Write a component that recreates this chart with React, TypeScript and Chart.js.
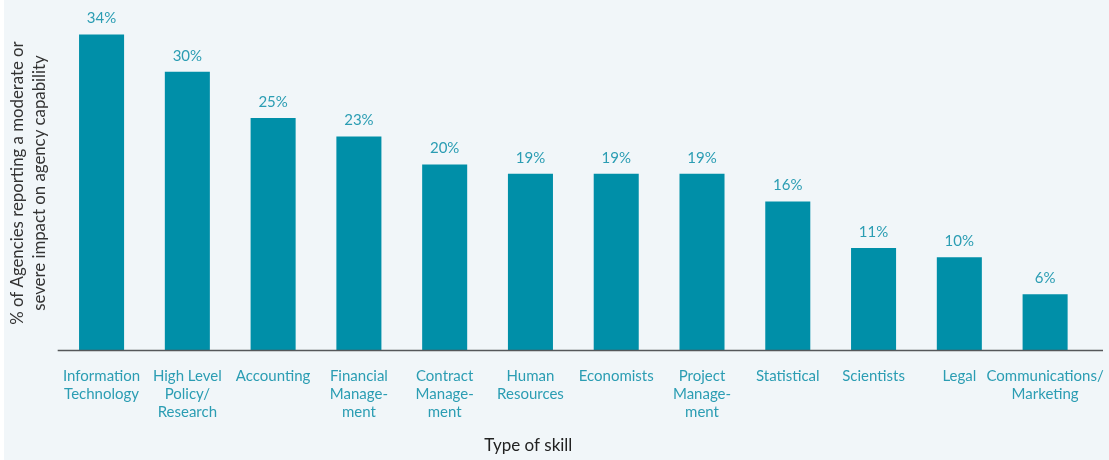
import React, { useEffect, useRef } from "react";
import { Chart, registerables } from "chart.js";

Chart.register(...registerables);

const categories: (string | string[])[] = [
  ["Information", "Technology"],
  ["High Level", "Policy/", "Research"],
  "Accounting",
  ["Financial", "Manage-", "ment"],
  ["Contract", "Manage-", "ment"],
  ["Human", "Resources"],
  "Economists",
  ["Project", "Manage-", "ment"],
  "Statistical",
  "Scientists",
  "Legal",
  ["Communications/", "Marketing"],
];

const values: number[] = [34, 30, 25, 23, 20, 19, 19, 19, 16, 11, 10, 6];

const yTitle: string[] = [
  "% of Agencies reporting a moderate or",
  "severe impact on agency capability",
];
const xTitle = "Type of skill";

const BAR = "#008fa8";
const TEAL_TEXT = "#2b9db3";
const FONT = "Lato, 'Open Sans', sans-serif";

const extras = {
  id: "extras",
  afterDatasetsDraw(chart: any) {
    const { ctx, chartArea } = chart;
    const meta = chart.getDatasetMeta(0);
    ctx.save();
    // baseline
    ctx.strokeStyle = "#55585a";
    ctx.lineWidth = 1.5;
    ctx.beginPath();
    ctx.moveTo(chartArea.left - 1, chartArea.bottom + 0.5);
    ctx.lineTo(chartArea.right + 15, chartArea.bottom + 0.5);
    ctx.stroke();
    // value labels
    ctx.fillStyle = TEAL_TEXT;
    ctx.font = `15px ${FONT}`;
    ctx.textAlign = "center";
    ctx.textBaseline = "middle";
    meta.data.forEach((bar: any, i: number) => {
      ctx.fillText(values[i] + "%", bar.x, bar.y - 16);
    });
    // x title
    ctx.fillStyle = "#222";
    ctx.font = `17px ${FONT}`;
    ctx.fillText(xTitle, (chartArea.left + chartArea.right) / 2 - 45, chart.height - 14);
    ctx.restore();
  },
};

export default function App() {
  const ref = useRef<HTMLCanvasElement>(null);
  useEffect(() => {
    document.body.style.margin = "0";
    const chart = new Chart(ref.current!, {
      type: "bar",
      data: {
        labels: categories,
        datasets: [
          {
            data: values,
            backgroundColor: BAR,
            barPercentage: 0.525,
            categoryPercentage: 1,
          },
        ],
      },
      options: {
        animation: false,
        responsive: false,
        layout: { padding: { left: 0, right: 21, top: 16, bottom: 22 } },
        plugins: { legend: { display: false }, tooltip: { enabled: false } },
        scales: {
          x: {
            grid: { display: false, drawTicks: false },
            border: { display: false },
            afterFit: (scale: any) => {
              scale.paddingLeft = 0;
              scale.paddingRight = 0;
            },
            ticks: {
              color: TEAL_TEXT,
              font: { family: FONT, size: 15, lineHeight: 1.2 },
              padding: 17,
              maxRotation: 0,
              autoSkip: false,
            },
          },
          y: {
            min: 0,
            max: 36,
            grid: { display: false, drawTicks: false },
            border: { display: false },
            ticks: { display: false },
            title: {
              display: true,
              text: yTitle,
              color: "#333",
              font: { family: FONT, size: 16.8, lineHeight: 1.3 },
              padding: { top: 3, bottom: 8 },
            },
          },
        },
      },
      plugins: [extras],
    });
    return () => chart.destroy();
  }, []);
  return (
    <div style={{ background: "#fff", width: 1109, height: 460 }}>
      <div style={{ marginLeft: 4, width: 1105, height: 460, background: "#f1f6f9" }}>
        <canvas ref={ref} width={1105} height={460} style={{ display: "block" }} />
      </div>
    </div>
  );
}
